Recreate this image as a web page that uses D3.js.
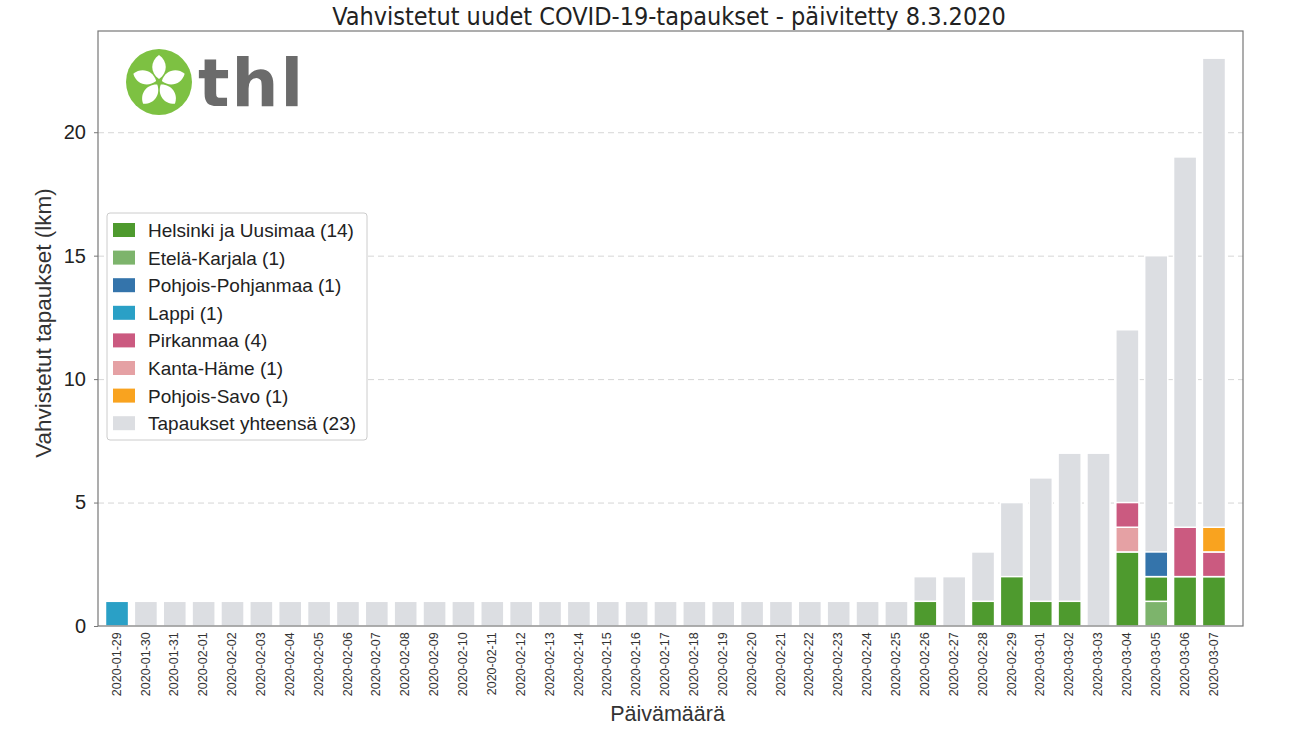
<!DOCTYPE html>
<html>
<head>
<meta charset="utf-8">
<script src="https://cdn.jsdelivr.net/npm/d3@7"></script>
<style>
  body { margin: 0; background: #fff; }
  svg { font-family: "Liberation Sans", Arial, sans-serif; }
  .grid line { stroke: #d6d6d6; stroke-dasharray: 6,4; }
  .grid .domain { display: none; }
</style>
</head>
<body>
<div id="chart"></div>
<script>
// dates on the x axis
const dates = [
  '2020-01-29', '2020-01-30', '2020-01-31', '2020-02-01', '2020-02-02', '2020-02-03',
  '2020-02-04', '2020-02-05', '2020-02-06', '2020-02-07', '2020-02-08', '2020-02-09',
  '2020-02-10', '2020-02-11', '2020-02-12', '2020-02-13', '2020-02-14', '2020-02-15',
  '2020-02-16', '2020-02-17', '2020-02-18', '2020-02-19', '2020-02-20', '2020-02-21',
  '2020-02-22', '2020-02-23', '2020-02-24', '2020-02-25', '2020-02-26', '2020-02-27',
  '2020-02-28', '2020-02-29', '2020-03-01', '2020-03-02', '2020-03-03', '2020-03-04',
  '2020-03-05', '2020-03-06', '2020-03-07',
];

// cumulative total (grey bars)
const totals = [1, 1, 1, 1, 1, 1, 1, 1, 1, 1, 1, 1, 1, 1, 1, 1, 1, 1, 1, 1, 1, 1, 1, 1,
  1, 1, 1, 1, 2, 2, 3, 5, 6, 7, 7, 12, 15, 19, 23];

// new cases per region, by date (only days with cases)
const helsinki = { '2020-02-26': 1, '2020-02-28': 1, '2020-02-29': 2, '2020-03-01': 1,
  '2020-03-02': 1, '2020-03-04': 3, '2020-03-05': 1, '2020-03-06': 2, '2020-03-07': 2 };
const etelaKarjala = { '2020-03-05': 1 };
const pohjoisPohjanmaa = { '2020-03-05': 1 };
const lappi = { '2020-01-29': 1 };
const pirkanmaa = { '2020-03-04': 1, '2020-03-06': 2, '2020-03-07': 1 };
const kantaHame = { '2020-03-04': 1 };
const pohjoisSavo = { '2020-03-07': 1 };

// legend order
const regions = [
  { name: 'Helsinki ja Uusimaa (14)', key: 'helsinki', values: helsinki, color: '#4e9a2e' },
  { name: 'Etelä-Karjala (1)', key: 'etelaKarjala', values: etelaKarjala, color: '#7db46c' },
  { name: 'Pohjois-Pohjanmaa (1)', key: 'pohjoisPohjanmaa', values: pohjoisPohjanmaa, color: '#3474ab' },
  { name: 'Lappi (1)', key: 'lappi', values: lappi, color: '#2aa0c6' },
  { name: 'Pirkanmaa (4)', key: 'pirkanmaa', values: pirkanmaa, color: '#cb5a80' },
  { name: 'Kanta-Häme (1)', key: 'kantaHame', values: kantaHame, color: '#e5a1a4' },
  { name: 'Pohjois-Savo (1)', key: 'pohjoisSavo', values: pohjoisSavo, color: '#f9a31f' },
];
const totalName = 'Tapaukset yhteensä (23)';
const totalColor = '#dcdee2';

// stacking goes alphabetically
const stackOrder = ['etelaKarjala', 'helsinki', 'kantaHame', 'lappi', 'pirkanmaa',
  'pohjoisPohjanmaa', 'pohjoisSavo'];

const yTicks = [0, 5, 10, 15, 20];

const W = 1300;
const H = 731;
const margin = { top: 31, right: 57, bottom: 105, left: 98 };
const width = W - margin.left - margin.right;
const height = H - margin.top - margin.bottom;

const svg = d3.select('#chart').append('svg')
  .attr('width', W)
  .attr('height', H);

const g = svg.append('g')
  .attr('transform', `translate(${margin.left},${margin.top})`);

const x = d3.scaleBand().domain(dates).range([4.6, 1130.4]).paddingInner(0.2).paddingOuter(0.1);
const y = d3.scaleLinear().domain([0, 24.1]).range([height, 0]);

// grid
g.append('g')
  .attr('class', 'grid')
  .call(d3.axisLeft(y).tickValues(yTicks.slice(1)).tickSize(-width).tickFormat(''));

// grey totals
g.append('g').selectAll('rect')
  .data(dates)
  .join('rect')
  .attr('x', d => x(d))
  .attr('width', x.bandwidth())
  .attr('y', (d, i) => y(totals[i]))
  .attr('height', (d, i) => y(0) - y(totals[i]))
  .attr('fill', totalColor)
  .attr('stroke', '#fff')
  .attr('stroke-width', 1.5);

// stacked regions
const rows = dates.map(d => {
  const r = { date: d };
  regions.forEach(reg => { r[reg.key] = reg.values[d] || 0; });
  return r;
});
const series = d3.stack().keys(stackOrder)(rows);
const colorOf = {};
regions.forEach(r => { colorOf[r.key] = r.color; });

g.append('g').selectAll('g')
  .data(series)
  .join('g')
  .attr('fill', s => colorOf[s.key])
  .selectAll('rect')
  .data(s => s.filter(v => v[1] > v[0]))
  .join('rect')
  .attr('x', v => x(v.data.date))
  .attr('width', x.bandwidth())
  .attr('y', v => y(v[1]))
  .attr('height', v => y(v[0]) - y(v[1]))
  .attr('stroke', '#fff')
  .attr('stroke-width', 1.5);

// frame
g.append('rect')
  .attr('width', width)
  .attr('height', height)
  .attr('fill', 'none')
  .attr('stroke', '#777')
  .attr('stroke-width', 1.2);

// y axis
const yAxis = g.append('g')
  .call(d3.axisLeft(y).tickValues(yTicks).tickSize(4).tickPadding(8));
yAxis.select('.domain').remove();
yAxis.selectAll('line').attr('stroke', '#777');
yAxis.selectAll('text')
  .attr('font-size', 20)
  .attr('fill', '#222');

// x axis
const xAxis = g.append('g')
  .attr('transform', `translate(0,${height})`)
  .call(d3.axisBottom(x).tickSize(0).tickPadding(8));
xAxis.select('.domain').remove();
xAxis.selectAll('text')
  .attr('font-size', 12.5)
  .attr('fill', '#333')
  .style('text-anchor', 'end')
  .attr('dx', '-0.5em')
  .attr('dy', '-0.35em')
  .attr('transform', 'rotate(-90)');

// axis titles
svg.append('text')
  .attr('x', margin.left + width / 2 - 3)
  .attr('y', 721)
  .attr('text-anchor', 'middle')
  .attr('font-size', 21.5)
  .attr('fill', '#333')
  .text('Päivämäärä');

svg.append('text')
  .attr('transform', `translate(51,${margin.top + 292}) rotate(-90)`)
  .attr('text-anchor', 'middle')
  .attr('font-size', 22.5)
  .attr('fill', '#333')
  .text('Vahvistetut tapaukset (lkm)');

// title
svg.append('text')
  .attr('x', 669)
  .attr('y', 25)
  .attr('text-anchor', 'middle')
  .attr('font-family', '"Liberation Sans Narrow", "DejaVu Sans Condensed", sans-serif')
  .attr('font-size', 25)
  .attr('fill', '#222')
  .text('Vahvistetut uudet COVID-19-tapaukset - päivitetty 8.3.2020');

// legend
const legendItems = regions.map(r => ({ name: r.name, color: r.color }))
  .concat([{ name: totalName, color: totalColor }]);
const legend = svg.append('g').attr('transform', 'translate(107,213)');
legend.append('rect')
  .attr('width', 260)
  .attr('height', 227)
  .attr('rx', 3)
  .attr('fill', '#fff')
  .attr('stroke', '#ccc');
const item = legend.selectAll('g.item')
  .data(legendItems)
  .join('g')
  .attr('class', 'item')
  .attr('transform', (d, i) => `translate(0,${17 + i * 27.6})`);
item.append('rect')
  .attr('x', 6)
  .attr('y', -7)
  .attr('width', 22)
  .attr('height', 14)
  .attr('fill', d => d.color);
item.append('text')
  .attr('x', 41)
  .attr('y', 7)
  .attr('font-size', 19)
  .attr('fill', '#222')
  .text(d => d.name);

// thl logo
const logo = svg.append('g').attr('transform', 'translate(159,82)');
logo.append('circle').attr('r', 33).attr('fill', '#7dc142');
const petal = 'M0,-3 C-9,-9 -9,-21 0,-27 C9,-21 9,-9 0,-3 Z';
logo.selectAll('path')
  .data(d3.range(5))
  .join('path')
  .attr('d', petal)
  .attr('fill', '#fff')
  .attr('transform', i => `rotate(${i * 72})`);
svg.append('text')
  .attr('x', 198)
  .attr('y', 106)
  .attr('font-family', '"DejaVu Sans", sans-serif')
  .attr('font-weight', 'bold')
  .attr('font-size', 66)
  .attr('fill', '#6b6b6b')
  .attr('letter-spacing', 2)
  .text('thl');
</script>
</body>
</html>
